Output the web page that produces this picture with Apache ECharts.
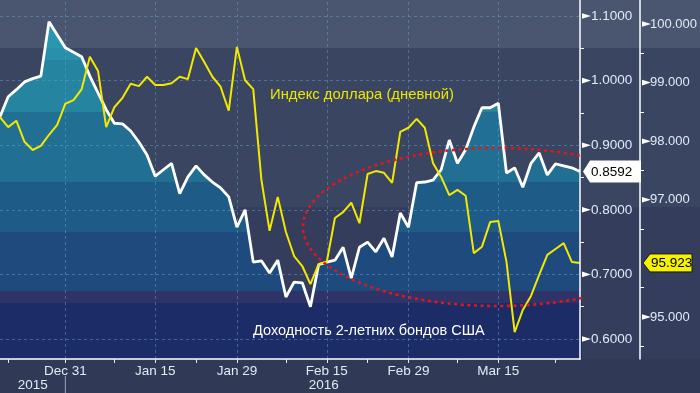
<!DOCTYPE html>
<html><head><meta charset="utf-8">
<script src="https://cdn.jsdelivr.net/npm/echarts@6/dist/echarts.min.js"></script>
<style>
html,body{margin:0;padding:0;overflow:hidden;}
#c{width:700px;height:393px;background:linear-gradient(to bottom,#4a5670 0px,#4a5670 48px,#3a4561 48px,#3a4561 207px,#343e5c 207px,#343e5c 359px,#303a56 359px,#303a56 393px);}
</style></head><body><div id="c"></div>
<script>
// ---- data ----
const dates = [
 '2015-12-21','2015-12-22','2015-12-23','2015-12-24','2015-12-25','2015-12-28','2015-12-29','2015-12-30','2015-12-31',
 '2016-01-01','2016-01-04','2016-01-05','2016-01-06','2016-01-07','2016-01-08','2016-01-11','2016-01-12','2016-01-13','2016-01-14','2016-01-15',
 '2016-01-18','2016-01-19','2016-01-20','2016-01-21','2016-01-22','2016-01-25','2016-01-26','2016-01-27','2016-01-28','2016-01-29',
 '2016-02-01','2016-02-02','2016-02-03','2016-02-04','2016-02-05','2016-02-08','2016-02-09','2016-02-10','2016-02-11','2016-02-12',
 '2016-02-15','2016-02-16','2016-02-17','2016-02-18','2016-02-19','2016-02-22','2016-02-23','2016-02-24','2016-02-25','2016-02-26',
 '2016-02-29','2016-03-01','2016-03-02','2016-03-03','2016-03-04','2016-03-07','2016-03-08','2016-03-09','2016-03-10','2016-03-11',
 '2016-03-14','2016-03-15','2016-03-16','2016-03-17','2016-03-18','2016-03-21','2016-03-22','2016-03-23','2016-03-24','2016-03-25',
 '2016-03-28','2016-03-29'
];
const yield2y = [
 0.944,0.975,0.986,0.998,1.003,1.007,1.091,1.071,1.051,
 1.044,1.037,1.007,0.981,0.955,0.934,0.933,0.922,0.905,0.885,0.852,
 0.862,0.872,0.825,0.851,0.868,0.854,0.843,0.834,0.820,0.773,
 0.800,0.719,0.721,0.702,0.722,0.665,0.688,0.687,0.650,0.715,
 0.719,0.722,0.742,0.694,0.742,0.750,0.735,0.756,0.727,0.795,
 0.773,0.842,0.843,0.846,0.862,0.908,0.872,0.893,0.928,0.958,
 0.958,0.965,0.857,0.865,0.835,0.872,0.888,0.854,0.871,0.868,
 0.865,0.8592
];
const dollarIdx = [
 98.41,98.24,98.35,97.99,97.85,97.92,98.11,98.28,98.64,
 98.70,98.89,99.44,99.20,98.24,98.58,98.74,98.98,98.94,99.10,98.96,
 98.96,98.99,99.10,99.06,99.59,99.35,99.10,98.93,98.52,99.61,
 99.04,98.89,97.34,96.47,97.05,96.45,96.04,95.87,95.56,95.90,
 95.94,96.69,96.79,96.95,96.60,97.44,97.49,97.46,97.29,98.16,
 98.23,98.38,98.23,97.63,97.39,97.08,97.17,97.07,96.09,96.20,
 96.62,96.64,95.94,94.74,95.12,95.36,95.72,96.06,96.16,96.26,
 95.94,95.923
];
const yieldTicks = [0.6, 0.7, 0.8, 0.9, 1.0, 1.1];
const yieldMinor = [0.65, 0.75, 0.85, 0.95, 1.05];
const dollarTicks = [95, 97, 98, 99, 100];      // 96 hidden behind last-value tag
const dollarMinor = [94.5, 95.5, 96.5, 97.5, 98.5, 99.5];
const labeledDates = ['2015-12-31','2016-01-15','2016-01-29','2016-02-15','2016-02-29','2016-03-15'];
const minorDates = ['2015-12-22','2016-01-08','2016-01-22','2016-02-08','2016-02-22','2016-03-08','2016-03-24'];
const years = ['2015', '2016'];
const yearBreak = '2015-12-31';
const yieldName = 'Доходность 2-летних бондов США';
const dollarName = 'Индекс доллара (дневной)';
const MONTHS = ['Jan','Feb','Mar','Apr','May','Jun','Jul','Aug','Sep','Oct','Nov','Dec'];

// ---- chart ----
const FONT = "'Liberation Sans', Arial, sans-serif";
const LABEL = '#e2eaf6';
const tickSet = new Set(labeledDates.concat(minorDates));
const labelSet = new Set(labeledDates);
const fmtDate = v => { const p = v.split('-'); return MONTHS[+p[1]-1] + ' ' + (+p[2]); };

const chart = echarts.init(document.getElementById('c'), null, {renderer: 'canvas'});
const GRID_R = 118, GRID_B = 34;
const option = {
  animation: false,
  backgroundColor: 'transparent',
  grid: {left: 0, right: GRID_R, top: 0, bottom: GRID_B, containLabel: false},
  xAxis: {
    type: 'category', data: dates, boundaryGap: false, z: 4,
    axisLine: {show: true, lineStyle: {color: '#ffffff', width: 1.5}},
    axisTick: {show: true, interval: (i, v) => tickSet.has(v), length: 4, lineStyle: {color: '#e6ecf5', width: 1}},
    axisLabel: {interval: (i, v) => labelSet.has(v), formatter: fmtDate, color: LABEL, fontSize: 13.5, fontFamily: FONT, margin: 5},
    splitLine: {show: false}
  },
  yAxis: [
    {type: 'value', position: 'right', min: 0.569, max: 1.1248, z: 4,
     axisLine: {show: true, lineStyle: {color: '#ffffff', width: 1.5}},
     axisTick: {show: true, customValues: yieldMinor, length: 4, lineStyle: {color: '#ffffff', width: 1}},
     axisLabel: {customValues: yieldTicks, formatter: v => v.toFixed(4), margin: 11, color: LABEL, fontSize: 13.5, fontFamily: FONT},
     splitLine: {show: false}},
    {type: 'value', position: 'right', offset: 60, min: 94.283, max: 100.41, z: 4,
     axisLine: {show: true, lineStyle: {color: '#ffffff', width: 1.5}},
     axisTick: {show: true, customValues: dollarMinor, length: 4, lineStyle: {color: '#ffffff', width: 1}},
     axisLabel: {customValues: dollarTicks, formatter: v => v.toFixed(3), margin: 10, color: LABEL, fontSize: 13, fontFamily: FONT},
     splitLine: {show: false}}
  ],
  series: [
    {type: 'line', name: 'yieldArea', data: yield2y, yAxisIndex: 0, z: 1, symbol: 'none', silent: true,
     lineStyle: {width: 0}, emphasis: {disabled: true},
     areaStyle: {origin: 'start', opacity: 1, color: {type: 'linear', x: 0, y: 0, x2: 0, y2: 359, global: true, colorStops: [
       {offset: 0, color: '#2a97b0'}, {offset: 48/359, color: '#2a97b0'},
       {offset: 48/359, color: '#2890aa'}, {offset: 60/359, color: '#2890aa'},
       {offset: 60/359, color: '#25849f'}, {offset: 112/359, color: '#25849f'},
       {offset: 112/359, color: '#216f93'}, {offset: 182/359, color: '#216f93'},
       {offset: 182/359, color: '#1f5b87'}, {offset: 232/359, color: '#1f5b87'},
       {offset: 232/359, color: '#1e4a7e'}, {offset: 291/359, color: '#1e4a7e'},
       {offset: 291/359, color: '#2e3468'}, {offset: 303/359, color: '#2e3468'},
       {offset: 303/359, color: '#1b2c66'}, {offset: 1, color: '#1b2c66'}
     ]}},
     markLine: {silent: true, z: 1.5, symbol: 'none', label: {show: false}, emphasis: {disabled: true},
       lineStyle: {type: [3, 3], color: 'rgba(100,160,200,0.5)', width: 1},
       data: yieldTicks.map(v => ({yAxis: v})).concat(labeledDates.map(d => ({xAxis: d})))}
    },
    {type: 'line', name: yieldName, data: yield2y, yAxisIndex: 0, z: 3, symbol: 'none',
     lineStyle: {color: '#ffffff', width: 2.8}, emphasis: {disabled: true}},
    {type: 'line', name: dollarName, data: dollarIdx, yAxisIndex: 1, z: 3, symbol: 'none',
     lineStyle: {color: '#f2e900', width: 2}, emphasis: {disabled: true}}
  ]
};
chart.setOption(option);

// ---- decorations (positioned through the axes) ----
const ax = 700 - GRID_R, ox = ax + 60, plotB = 393 - GRID_B;
const yPix = (i, v) => chart.convertToPixel({yAxisIndex: i}, v);
const xPix = d => chart.convertToPixel({xAxisIndex: 0}, d);
const els = [];
els.push({type: 'rect', z: -1, silent: true, shape: {x: 0, y: 291, width: ax, height: 12}, style: {fill: '#2e3468'}});
els.push({type: 'rect', z: -1, silent: true, shape: {x: 0, y: 303, width: ax, height: plotB - 303}, style: {fill: '#1b2c66'}});
yieldTicks.forEach(v => { const y = yPix(0, v); els.push({type: 'polygon', z: 20, silent: true, shape: {points: [[ax, y-2.8], [ax+9, y], [ax, y+2.8]]}, style: {fill: '#ffffff'}}); });
dollarTicks.forEach(v => { const y = yPix(1, v); els.push({type: 'polygon', z: 20, silent: true, shape: {points: [[ox, y-2.8], [ox+9, y], [ox, y+2.8]]}, style: {fill: '#ffffff'}}); });
// red dotted ellipse
const cx = 497, cy = 227, rx = 194, ry = 79;
const t0 = Math.acos((ax - cx) / rx), t1 = 2*Math.PI - t0, pts = [];
for (let k = 0; k <= 240; k++) { const t = t0 + (t1 - t0) * k / 240; pts.push([cx + rx*Math.cos(t), cy + ry*Math.sin(t)]); }
els.push({type: 'polyline', z: 15, silent: true, shape: {points: pts}, style: {stroke: '#e3161d', lineWidth: 2.6, lineDash: [3, 3.6], fill: null}});
// series labels
els.push({type: 'text', z: 20, silent: true, x: 270, y: 95, style: {text: dollarName, fill: '#ece600', font: '14.8px ' + FONT, align: 'left', verticalAlign: 'middle'}});
els.push({type: 'text', z: 20, silent: true, x: 253, y: 331, style: {text: yieldName, fill: '#ffffff', font: '14.5px ' + FONT, align: 'left', verticalAlign: 'middle'}});
// year row
const div = xPix(yearBreak);
els.push({type: 'line', z: 20, silent: true, shape: {x1: div, y1: 376, x2: div, y2: 393}, style: {stroke: '#9aa3b6', lineWidth: 1}});
els.push({type: 'text', z: 20, silent: true, x: div/2, y: 385, style: {text: years[0], fill: LABEL, font: '13.5px ' + FONT, align: 'center', verticalAlign: 'middle'}});
els.push({type: 'text', z: 20, silent: true, x: (div + ax)/2, y: 385, style: {text: years[1], fill: LABEL, font: '13.5px ' + FONT, align: 'center', verticalAlign: 'middle'}});
// last-value tags
function tag(x, y, w, h, fill, stroke, text) {
  els.push({type: 'polygon', z: 21, silent: true, shape: {points: [[x, y], [x+7, y-h/2], [x+w, y-h/2], [x+w, y+h/2], [x+7, y+h/2]]}, style: {fill: fill, stroke: stroke, lineWidth: stroke ? 1 : 0}});
  els.push({type: 'text', z: 22, silent: true, x: x + 8, y: y + 0.5, style: {text: text, fill: '#000000', font: '13.5px ' + FONT, align: 'left', verticalAlign: 'middle'}});
}
const lastY = yield2y[yield2y.length - 1], lastD = dollarIdx[dollarIdx.length - 1];
tag(ax + 1, yPix(0, lastY), 58, 22, '#ffffff', null, lastY.toFixed(4));
tag(ox + 1, yPix(1, lastD), 49, 18, '#f7f200', '#1a1a1a', lastD.toFixed(3));
chart.setOption({graphic: {elements: els}});
</script>
</body></html>
